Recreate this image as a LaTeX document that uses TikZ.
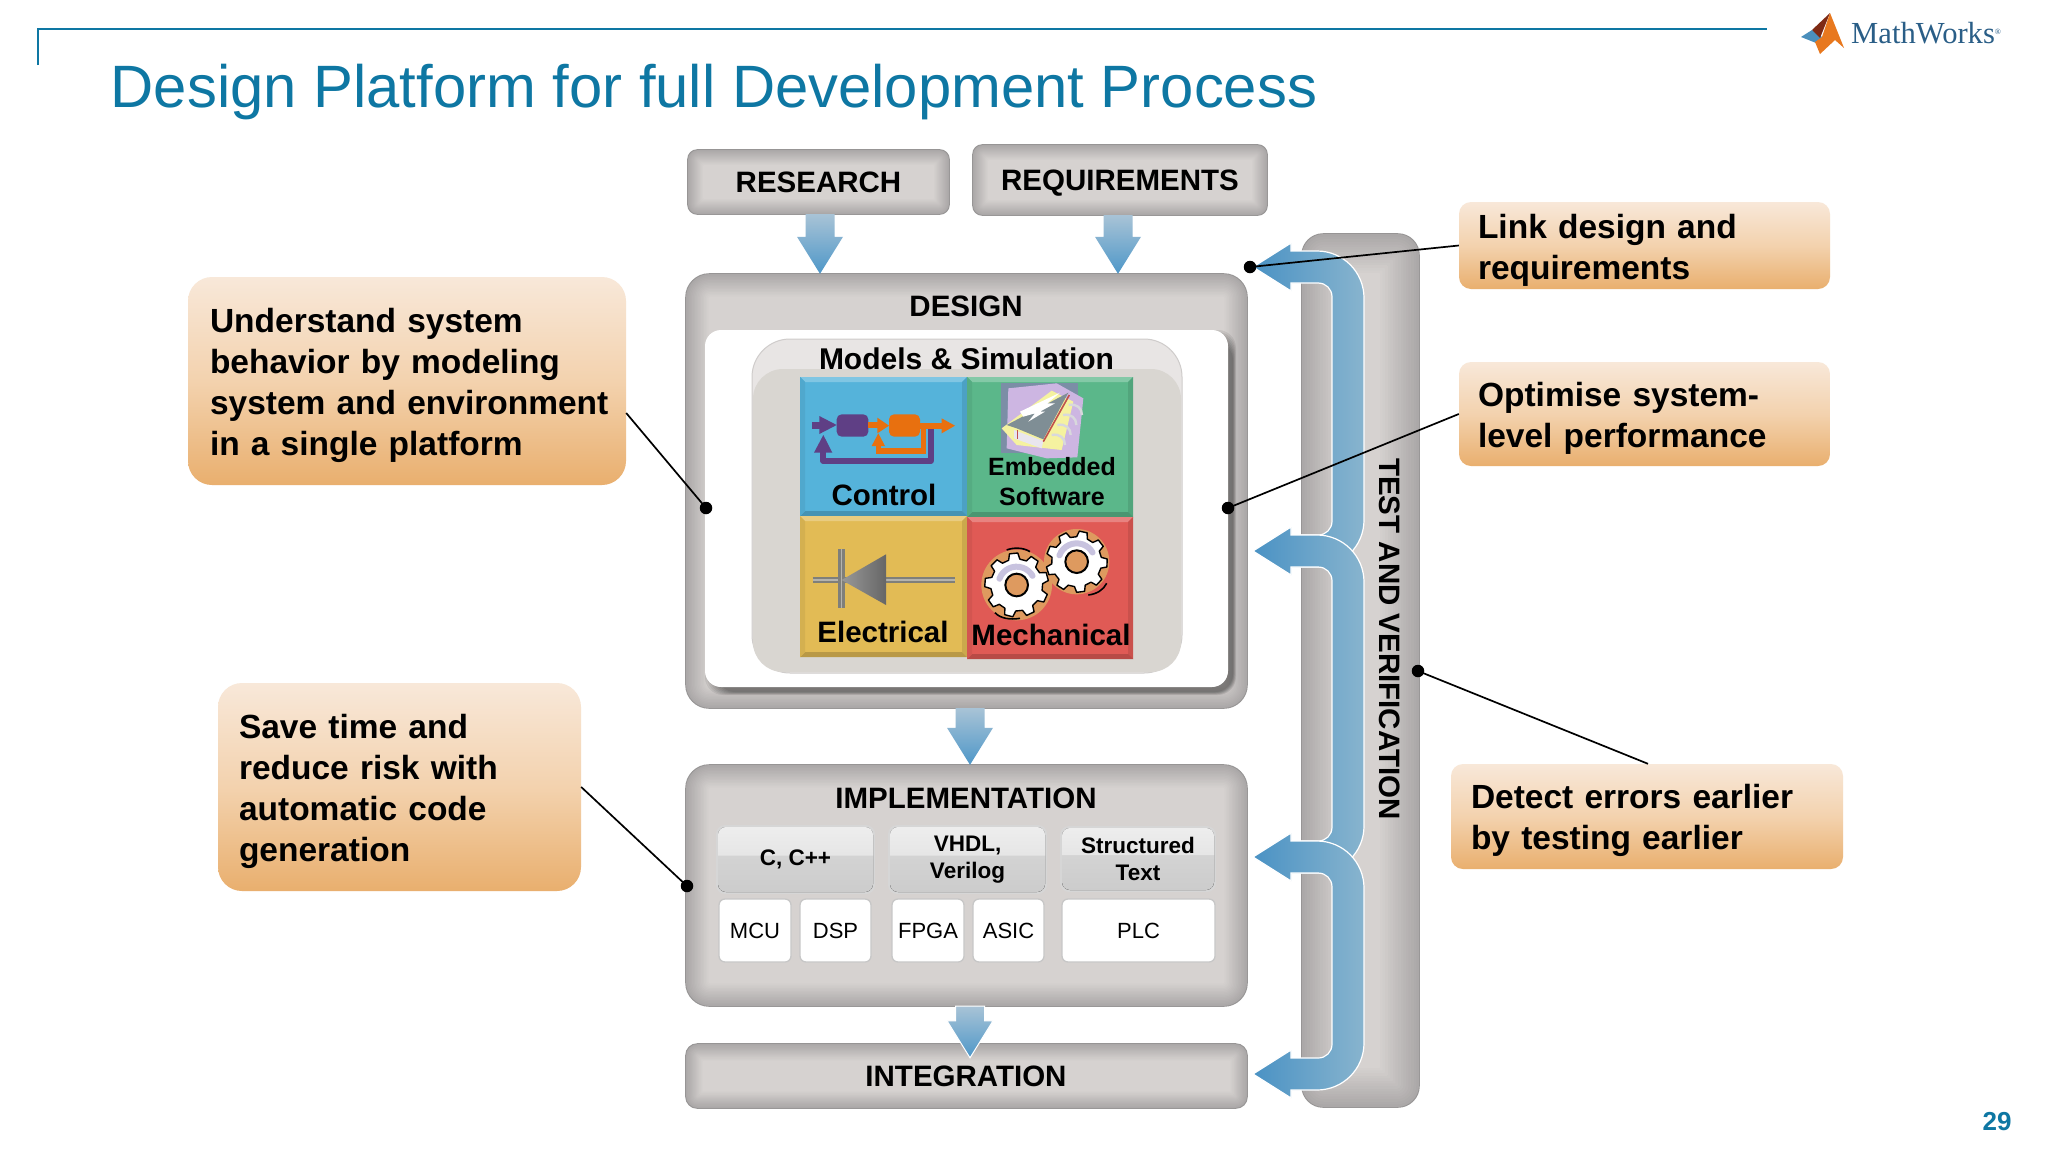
\documentclass[tikz,border=0pt]{standalone}
\usepackage{fontspec}
\setmainfont{Liberation Sans}
\newfontfamily\lserif{Liberation Serif}
\definecolor{boxout}{HTML}{ABA8A8}
\definecolor{boxin}{HTML}{D6D2D0}
\definecolor{boxline}{HTML}{979595}
\definecolor{titleblue}{HTML}{0E77A3}
\definecolor{armL}{HTML}{4A92C4}
\definecolor{armR}{HTML}{88B4CE}
\definecolor{arrT}{HTML}{A8C3D6}
\definecolor{arrB}{HTML}{4E97C8}
\definecolor{calT}{HTML}{F8E8D9}
\definecolor{calM}{HTML}{F3D2AE}
\definecolor{calB}{HTML}{E9AF6E}
\definecolor{ctrlP}{HTML}{5F3F85}
\definecolor{ctrlO}{HTML}{E8700F}
\definecolor{gearT}{HTML}{DE9A5F}
\definecolor{cBlue}{HTML}{55B3DA}
\definecolor{cGreen}{HTML}{5BB78A}
\definecolor{cYellow}{HTML}{E2BB55}
\definecolor{cRed}{HTML}{E05A55}
\definecolor{logoText}{HTML}{2A5E87}
\definecolor{crescent}{HTML}{C8C3DF}
\tikzset{
 hc/.code={\definecolor{tmpc}{HTML}{#1}\tikzset{color=tmpc}},
 lab/.style={font=\fontsize{29.5}{34}\selectfont\bfseries,text=black,inner sep=0pt,align=center},
 small/.style={font=\fontsize{25}{30}\selectfont\bfseries,text=black,inner sep=0pt,align=center},
 sub/.style={font=\fontsize{22.5}{27}\selectfont\bfseries,text=black,inner sep=0pt,align=center},
 chip/.style={font=\fontsize{22}{26}\selectfont,text=black,fill=white,draw=black!22,line width=1.3pt,rounded corners=6pt,inner sep=0pt},
 callout/.style={font=\fontsize{33.5}{41}\selectfont\bfseries,text=black,top color=calT,bottom color=calB,middle color=calM,align=left,inner ysep=0pt},
 leader/.style={draw=black,line width=1.7pt},
 dot/.style={circle,fill=black,minimum size=12.5pt,inner sep=0pt},
}
\newcommand{\topgap}{\rule{0pt}{33pt}}
% name, x1,y1,x2,y2, radius, step
\newcommand{\softbox}[7]{%
 \fill[boxline,rounded corners=#6 pt] (#2-.8,#3-.8) rectangle (#4+.8,#5+.8);
 \foreach \i in {0,...,15}{%
  \pgfmathsetmacro{\pc}{\i*100/15}%
  \pgfmathsetmacro{\rr}{max(#6-\i*#7,1)}%
  \colorlet{cc}{boxin!\pc!boxout}%
  \fill[cc,rounded corners=\rr pt] ({#2+\i*#7},{#3+\i*#7}) rectangle ({#4-\i*#7},{#5-\i*#7});
 }%
 \node[minimum width={(#4-#2)*1pt},minimum height={(#5-#3)*1pt},inner sep=0pt] (#1) at ({(#2+#4)/2},{(#3+#5)/2}) {};
}
% from, to, x offset, tip yshift
\newcommand{\blockdown}[5][]{%
 \path (#2) ++(#4,0) coordinate (ba);
 \path (ba |- #3) coordinate (bb);
 \shade[top color=arrT,bottom color=arrB,#1] ([yshift=#5]bb) -- ([xshift=-23pt,yshift=37pt+#5]bb) -- ([xshift=-14.5pt,yshift=37pt+#5]bb) -- ([xshift=-14.5pt]ba) -- ([xshift=14.5pt]ba) -- ([xshift=14.5pt,yshift=37pt+#5]bb) -- ([xshift=23pt,yshift=37pt+#5]bb) -- cycle;
}
% yt, yb
\newcommand{\bracketarrow}[2]{%
 \shadedraw[left color=armL,right color=armR,draw=white,line width=1.2pt]
 (1253,#1) -- (1291,#1-24) -- (1291,#1-16) -- (1317,#1-16)
 .. controls (1343,#1-16) and (1364,#1+5) .. (1364,#1+31) -- (1364,#2-31)
 .. controls (1364,#2-5) and (1343,#2+16) .. (1317,#2+16) -- (1291,#2+16) -- (1291,#2+24) -- (1253,#2)
 -- (1291,#2-24) -- (1291,#2-16) -- (1318,#2-16)
 .. controls (1326,#2-16) and (1332,#2-22) .. (1332,#2-30) -- (1332,#1+30)
 .. controls (1332,#1+22) and (1326,#1+16) .. (1318,#1+16) -- (1291,#1+16) -- (1291,#1+24) -- cycle;
}
% x1,y1,x2,y2,color
\newcommand{\cellbox}[5]{%
 \fill[#5] (#1,#2) rectangle (#3,#4);
 \fill[#5!75!white] (#1,#2) -- (#3,#2) -- (#3-5,#2+5) -- (#1+5,#2+5) -- cycle;
 \fill[#5!90!black] (#3,#2) -- (#3,#4) -- (#3-5,#4-5) -- (#3-5,#2+5) -- cycle;
 \fill[#5!82!black] (#1,#4) -- (#3,#4) -- (#3-5,#4-5) -- (#1+5,#4-5) -- cycle;
 \fill[#5!94!black] (#1,#2) -- (#1,#4) -- (#1+5,#4-5) -- (#1+5,#2+5) -- cycle;
}
% name,x1,y1,x2,y2,text
\newcommand{\glossbox}[6]{%
 \fill[black!16,rounded corners=9pt] (#2-2,#3-2) rectangle (#4+2,#5+2);
 \fill[rounded corners=8pt,top color=black!15,bottom color=black!20] (#2,#3) rectangle (#4,#5);
 \shade[top color=black!7,bottom color=black!10] (#2,{(#3+#5)/2-4}) [rounded corners=8pt] -- (#2,#3) -- (#4,#3) [sharp corners] -- (#4,{(#3+#5)/2-4}) -- cycle;
 \node[sub,minimum width={(#4-#2)*1pt},minimum height={(#5-#3)*1pt}] (#1) at ({(#2+#4)/2},{(#3+#5)/2}) {#6};
}
% cx,cy,outer,root,rot
\newcommand{\gearshape}[5]{%
 \begin{scope}[shift={(#1,#2)}]
 \draw[fill=white,draw=black,line width=1.4pt,line join=round] ({#5}:#4)
  foreach \k in {0,...,8}{ -- ({#5+\k*40}:#4) -- ({#5+\k*40+5}:#3) -- ({#5+\k*40+20}:#3) -- ({#5+\k*40+25}:#4) } -- cycle;
 \draw[draw=crescent,line width=6pt,line cap=round] (200:55) arc (200:330:55);
 \draw[fill=gearT,draw=black,line width=2pt] (0,0) circle (34);
 \end{scope}
}
\begin{document}
\begin{tikzpicture}[x=1pt,y=-1pt]
\useasboundingbox (0,0) rectangle (2048,1152);
\fill[white] (0,0) rectangle (2048,1152);
% header
\draw[titleblue,line width=1.5pt] (38,65) -- (38,29) -- (1767,29);
\node[anchor=base west,inner sep=0pt,text=titleblue,font=\fontsize{59.8}{70}\selectfont] (title) at (110.5,107) {Design Platform for full Development Process};
% logo
\fill[hc=4A8FBC] (1801,37) -- (1812,30) -- (1822,37) -- (1816,43) -- cycle;
\fill[hc=7E2A14] (1812,30) -- (1830,13) -- (1820,38) -- cycle;
\fill[hc=E8781E] (1830,13) -- (1844,48) -- (1835,40) -- (1820,54) -- (1815,42) -- (1822,37) -- cycle;
\node[anchor=base west,inner sep=0pt,text=logoText,font=\lserif\fontsize{30.6}{34}\selectfont] (logo) at (1851,43) {MathWorks\raisebox{9pt}{\fontsize{8}{8}\selectfont ®}};
\node[inner sep=0pt,text=titleblue,font=\fontsize{26}{30}\selectfont\bfseries] (page) at (1997,1122) {29};
% test bar
\softbox{test}{1302}{234}{1419}{1107}{22}{2.6}
% top boxes
\softbox{research}{688}{150}{949}{214}{10}{1.0}
\node[lab] (researchl) at (818.5,182) {RESEARCH};
\softbox{requirements}{973}{145}{1267}{215}{10}{1.0}
\node[lab] (requirementsl) at (1120,183.5) {REQUIREMENTS};
% design
\softbox{design}{686}{274}{1247}{708}{24}{1.5}
\node[lab] (designl) at (966,306) {DESIGN};
\foreach \j in {0,...,6}{\fill[black,opacity=0.07,rounded corners=18pt] ({705+2*\j},{330+2*\j}) rectangle ({1236-\j*0.5},{695-\j*0.5});}
\fill[white,rounded corners=16pt] (705,330) rectangle (1228,687);
% models and simulation
\fill[hc=E8E5E4,rounded corners=38pt] (752,339) rectangle (1182,673);
\draw[hc=CFCCCB,line width=1pt,rounded corners=38pt] (752,339) rectangle (1182,673);
\fill[hc=D9D6D1,rounded corners=30pt] (753,369) rectangle (1181,672);
\node[font=\fontsize{30}{34}\selectfont\bfseries,text=black,inner sep=0pt] (msl) at (966.5,359) {Models \& Simulation};
% cells
\cellbox{800}{377}{967}{516}{cBlue}
\cellbox{967}{377}{1133}{517}{cGreen}
\cellbox{800}{516}{967}{657}{cYellow}
\cellbox{967}{517}{1133}{659}{cRed}
\begin{scope}[shift={(790,370)},x=.33333pt,y=-.33333pt]
 % control icon
 \fill[ctrlP,rounded corners=5pt] (140,133) rectangle (235,200);
 \fill[ctrlP] (66,155) rectangle (90,178);
 \fill[ctrlP] (88,138) -- (140,165) -- (88,192) -- cycle;
 \draw[ctrlP,line width=5.8pt,line join=round] (422,170) -- (422,273) -- (99,273) -- (99,230);
 \fill[ctrlP] (72,248) -- (100,195) -- (127,248) -- cycle;
 \fill[ctrlO,rounded corners=5pt] (297,133) rectangle (390,200);
 \draw[ctrlO,line width=5.8pt] (235,165) -- (268,165);
 \fill[ctrlO] (262,143) -- (297,167) -- (262,190) -- cycle;
 \draw[ctrlO,line width=5.8pt] (390,167) -- (460,167);
 \fill[ctrlO] (455,145) -- (495,167) -- (455,190) -- cycle;
 \draw[ctrlO,line width=5.2pt] (400,167) -- (400,243) -- (265,243) -- (265,222);
 \fill[ctrlO] (245,228) -- (265,190) -- (285,228) -- cycle;
 % chip clipart
 \fill[hc=7B8EA6] (632,40) rectangle (865,250);
 \fill[hc=CDB6E2] (655,55) -- (800,40) -- (880,85) -- (862,262) -- (770,265) -- (650,235) -- cycle;
 \fill[hc=F5F2A0] (635,175) -- (785,62) -- (850,95) -- (815,240) -- (680,225) -- cycle;
 \fill[hc=7F8E95] (650,165) -- (835,68) -- (760,208) -- (680,175) -- cycle;
 \fill[white] (690,125) -- (810,68) -- (772,100) -- (795,100) -- (750,125) -- (765,125) -- (715,155) -- (735,130) -- (700,140) -- cycle;
 \fill[hc=E9E6EE] (672,180) -- (760,213) -- (755,235) -- (672,205) -- cycle;
 \draw[hc=C0504D,line width=1.6pt] (760,215) -- (838,75);
 \draw[hc=C0504D,line width=1.6pt] (682,180) -- (682,208);
 \foreach \q in {0,1,2,3}{\draw[hc=D8D8DC,line width=2.4pt] ({785+\q*17},{195-\q*30}) .. controls ({810+\q*17},{190-\q*30}) and ({825+\q*17},{205-\q*30}) .. ({825+\q*17},{225-\q*30});}
 % diode
 \draw[hc=7F7F7A,line width=6.5pt] (68,630) -- (495,630);
 \draw[hc=B5B3AD,line width=1.6pt] (68,630) -- (495,630);
 \draw[hc=7F7F7A,line width=6.5pt] (155,537) -- (155,715);
 \draw[hc=B5B3AD,line width=1.6pt] (155,537) -- (155,715);
 \shade[left color=black!40,right color=black!60] (155,630) -- (288,553) -- (288,705) -- cycle;
 % gears
 \fill[gearT] (680,645) circle (106);
 \fill[gearT] (860,575) circle (98);
 \gearshape{680}{645}{96}{78}{12}
 \gearshape{860}{575}{92}{75}{30}
 \draw[black,line width=1.6pt] (650,540) .. controls (670,532) and (700,532) .. (720,545);
 \draw[black,line width=1.6pt] (615,728) .. controls (630,745) and (660,750) .. (690,745);
 \draw[black,line width=1.6pt] (895,675) .. controls (920,672) and (940,660) .. (950,640);
\end{scope}
\node[lab] (control) at (884,495) {Control};
\node[small] (embedded) at (1052,482) {Embedded\\Software};
\node[lab] (electrical) at (883,632) {Electrical};
\node[lab] (mechanical) at (1051,635) {Mechanical};
% implementation
\softbox{impl}{686}{765}{1247}{1006}{24}{1.5}
\node[lab] (impll) at (966,798) {IMPLEMENTATION};
\glossbox{cc}{718}{827}{873}{892}{C, C++}
\glossbox{hdl}{890}{827}{1045}{892}{VHDL,\\Verilog}
\glossbox{st}{1062}{828}{1214}{890}{Structured\\Text}
\node[chip,minimum width=72pt,minimum height=63pt] (mcu) at (755,930.5) {MCU};
\node[chip,minimum width=71pt,minimum height=63pt] (dsp) at (835.5,930.5) {DSP};
\node[chip,minimum width=72pt,minimum height=63pt] (fpga) at (928,930.5) {FPGA};
\node[chip,minimum width=71pt,minimum height=63pt] (asic) at (1008.5,930.5) {ASIC};
\node[chip,minimum width=153pt,minimum height=63pt] (plc) at (1138.5,930.5) {PLC};
% integration
\softbox{integ}{686}{1044}{1247}{1108}{12}{1.1}
\node[lab] (integl) at (966,1076) {INTEGRATION};
% block arrows
\blockdown{research.south}{design.north}{1.5pt}{0pt}
\blockdown{requirements.south}{design.north}{-2pt}{0pt}
\blockdown{design.south}{impl.north}{3.5pt}{0pt}
\blockdown[draw=white,line width=1pt]{impl.south}{integ.north}{3.5pt}{-14pt}
% brackets
\bracketarrow{267}{551}
\bracketarrow{551}{857}
\bracketarrow{857}{1074}
\node[lab,rotate=-90] (testl) at (1390,639) {TEST AND VERIFICATION};
% callouts
\node[callout,rounded corners=24pt,minimum width=438pt,minimum height=208pt,inner xsep=22pt,text width=394pt] (c1) at (407,381) {\topgap Understand system\\behavior by modeling\\\mbox{system and environment}\\in a single platform};
\node[callout,rounded corners=24pt,minimum width=363pt,minimum height=208pt,inner xsep=21pt,text width=321pt] (c2) at (399.5,787) {\topgap Save time and\\reduce risk with\\automatic code\\generation};
\node[callout,rounded corners=12pt,minimum width=371pt,minimum height=87pt,inner xsep=19pt,text width=333pt] (c3) at (1644.5,245.5) {\topgap Link design and\\requirements};
\node[callout,rounded corners=12pt,minimum width=371pt,minimum height=104pt,inner xsep=19pt,text width=333pt] (c4) at (1644.5,414) {\topgap Optimise system-\\level performance};
\node[callout,rounded corners=12pt,minimum width=392pt,minimum height=105pt,inner xsep=20pt,text width=352pt] (c5) at (1647,816.5) {\topgap Detect errors earlier\\by testing earlier};
% leaders
\node[dot] (d1) at (706,508) {};
\node[dot] (d2) at (687,886) {};
\node[dot] (d3) at (1250,267) {};
\node[dot] (d4) at (1228,508) {};
\node[dot] (d5) at (1418,671) {};
\draw[leader] ([yshift=-32pt]c1.east) -- (d1.center);
\draw[leader] (c2.east) -- (d2.center);
\draw[leader] (c3.west) -- (d3.center);
\draw[leader] (c4.west) -- (d4.center);
\draw[leader] ([xshift=1pt]c5.north) -- (d5.center);
\end{tikzpicture}
\end{document}
